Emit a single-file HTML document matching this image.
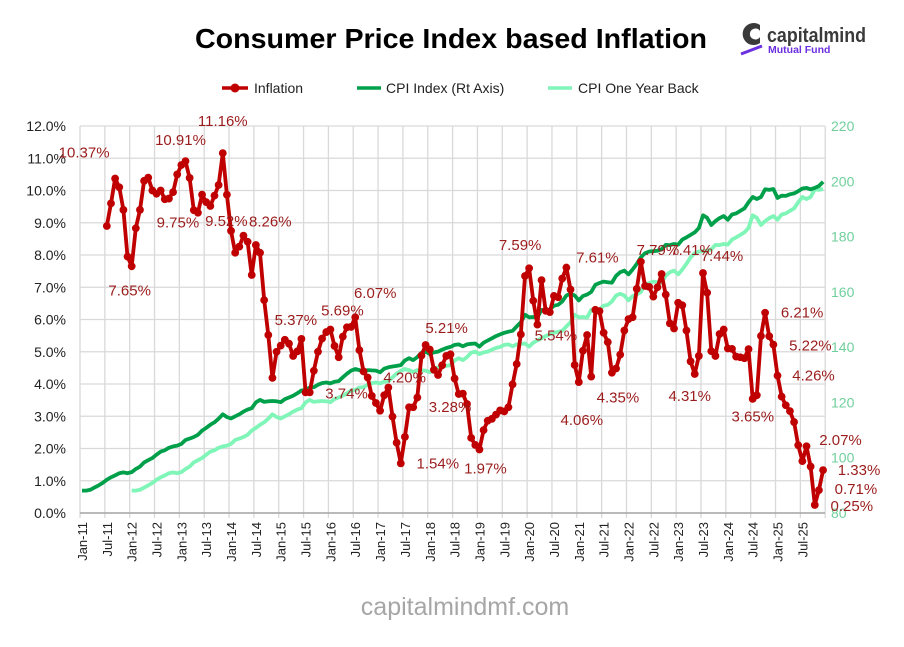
<!DOCTYPE html>
<html><head><meta charset="utf-8"><title>Consumer Price Index based Inflation</title>
<style>
html,body{margin:0;padding:0;background:#fff;}
svg{display:block;font-family:"Liberation Sans",Arial,sans-serif;}
</style></head>
<body>
<svg id="chart" width="904" height="647" viewBox="0 0 904 647" xmlns="http://www.w3.org/2000/svg">
  <rect x="0" y="0" width="904" height="647" fill="#fff"/>
  <text x="451" y="48" text-anchor="middle" font-size="28" font-weight="bold" fill="#000" textLength="512" lengthAdjust="spacingAndGlyphs">Consumer Price Index based Inflation</text>
  <g>
    <path d="M760 25 A11 11 0 1 0 760 43 L760 37 A5.5 5.5 0 1 1 760 31 Z" fill="#3a3a3a"/>
    <path d="M741 54 L762 46" stroke="#6b2fe0" stroke-width="3"/>
    <text x="767" y="42" font-size="20" font-weight="bold" fill="#3a3a3a" textLength="99" lengthAdjust="spacingAndGlyphs">capitalmind</text>
    <text x="768" y="53" font-size="10.5" font-weight="bold" fill="#6b2fe0">Mutual Fund</text>
  </g>
  <g>
    <g>
      <line x1="222" y1="88" x2="248" y2="88" stroke="#c00000" stroke-width="3.5"/>
      <circle cx="235" cy="88" r="4.5" fill="#c00000"/>
      <text x="254" y="93" font-size="14" fill="#222">Inflation</text>
    </g>
    <g>
      <line x1="357" y1="88" x2="381" y2="88" stroke="#00a04b" stroke-width="3.5"/>
      <text x="386" y="93" font-size="14" fill="#222">CPI Index (Rt Axis)</text>
    </g>
    <g>
      <line x1="548" y1="88" x2="572" y2="88" stroke="#80f5b8" stroke-width="3.5"/>
      <text x="578" y="93" font-size="14" fill="#222">CPI One Year Back</text>
    </g>
  </g>
  <g id="grid"></g>
  <g id="axes"></g>
  <g id="series"></g>
  <g id="labels"></g>
  <text x="465" y="615" text-anchor="middle" font-size="25" fill="#a6a6a6">capitalmindmf.com</text>
</svg>
<script>
// ---- data ----
const startYear = 2011;
const inflation = [
 null,null,null,null,null,null,8.9,9.6,10.37,10.1,9.4,7.95,
 7.65,8.83,9.4,10.3,10.4,10.0,9.9,10.0,9.73,9.75,9.95,10.5,
 10.79,10.91,10.39,9.39,9.31,9.87,9.64,9.52,9.84,10.17,11.16,9.87,
 8.75,8.07,8.26,8.6,8.41,7.38,8.31,8.07,6.6,5.52,4.19,5.0,
 5.19,5.37,5.25,4.87,5.01,5.40,3.74,3.74,4.41,5.0,5.41,5.61,
 5.69,5.18,4.83,5.47,5.76,5.77,6.07,5.05,4.39,4.20,3.63,3.41,
 3.17,3.65,3.89,2.99,2.18,1.54,2.36,3.28,3.28,3.58,4.88,5.21,
 5.07,4.44,4.28,4.58,4.87,4.92,4.17,3.69,3.70,3.38,2.33,2.11,
 1.97,2.57,2.86,2.92,3.05,3.18,3.15,3.28,3.99,4.62,5.54,7.35,
 7.59,6.58,5.84,7.22,6.27,6.23,6.73,6.69,7.27,7.61,6.93,4.59,
 4.06,5.03,5.52,4.23,6.30,6.26,5.59,5.30,4.35,4.48,4.91,5.66,
 6.01,6.07,6.95,7.79,7.04,7.01,6.71,7.0,7.41,6.77,5.88,5.72,
 6.52,6.44,5.66,4.70,4.31,4.87,7.44,6.83,5.02,4.87,5.55,5.69,
 5.10,5.09,4.85,4.83,4.80,5.08,3.54,3.65,5.49,6.21,5.48,5.22,
 4.26,3.61,3.34,3.16,2.82,2.10,1.61,2.07,1.44,0.25,0.71,1.33
];
const cpiIndex = [
 88.1,88.1,88.4,89.2,90.0,90.9,92.0,92.9,93.6,94.4,94.7,94.4,
 94.8,95.9,96.8,98.3,99.1,99.9,101.1,102.2,102.7,103.6,104.1,104.4,
 105.0,106.4,106.9,107.5,108.3,109.8,110.8,111.9,112.8,114.1,115.7,114.7,
 114.2,115.0,115.7,116.7,117.4,117.9,120.0,120.9,120.2,120.4,120.5,120.4,
 120.1,121.2,121.8,122.4,123.3,124.3,124.5,125.4,125.5,126.4,127.0,127.2,
 126.9,127.5,127.7,129.1,130.4,131.5,132.1,131.7,131.0,131.7,131.6,131.5,
 130.9,132.2,132.7,133.0,133.2,133.5,135.2,136.0,135.3,136.4,138.0,138.4,
 137.5,138.1,138.4,139.1,139.7,140.1,140.8,141.0,140.3,141.0,141.2,141.3,
 140.2,141.6,142.4,143.2,144.0,144.6,145.2,145.6,145.9,147.5,149.0,151.7,
 150.8,150.9,150.7,153.5,153.0,153.6,155.0,155.3,156.5,158.7,159.3,158.7,
 156.9,158.5,159.0,160.0,162.6,163.2,163.7,163.5,163.3,165.8,167.1,167.7,
 166.3,168.1,170.1,172.5,174.0,174.6,174.7,174.9,175.4,177.0,176.9,177.3,
 177.1,178.9,179.7,180.6,181.5,183.1,187.7,186.8,184.2,185.6,186.7,187.4,
 186.1,188.0,188.4,189.3,190.2,192.4,194.3,193.6,194.3,197.1,196.9,197.2,
 194.0,194.8,194.7,195.3,195.6,196.4,197.4,197.6,197.1,197.6,198.3,199.8
];
const leftTicks = [0,1,2,3,4,5,6,7,8,9,10,11,12];
const rightTicks = [80,100,120,140,160,180,200,220];
const monthNames = ["Jan","Feb","Mar","Apr","May","Jun","Jul","Aug","Sep","Oct","Nov","Dec"];
const labelIdx  = [8,12,25,21,34,31,38,49,60,66,54,69,83,79,77,96,108,106,117,120,128,135,140,150,148,163,165,167,168,175,179,178,177];
const labelOff  = [[-31,-21],[-2,29],[-5,-16],[9,29],[0,-27],[16,20],[31,-20],[11,-15],[12,-14],[20,-19],[41,6],[37,5],[21,-12],[41,5],[37,5],[6,24],[-9,-18],[35,6],[31,-5],[3,43],[6,30],[17,-7],[30,-19],[19,-12],[-5,27],[-4,26],[37,5],[37,6],[36,5],[34,-1],[36,5],[37,4],[37,6]];

// ---- scales ----
const X0 = 82, STEP = 4.14, PL = 80, PR = 825, PT = 126, PB = 513;
const xs = i => X0 + STEP * i;
const yL = v => PB - (PB - PT) * v / 12;
const yR = v => PB - (PB - PT) * (v - 80) / 140;
const NS = "http://www.w3.org/2000/svg";
function mk(tag, attrs, parent){ const e = document.createElementNS(NS, tag); for (const k in attrs) e.setAttribute(k, attrs[k]); parent.appendChild(e); return e; }

const grid = document.getElementById('grid'), axes = document.getElementById('axes');
const series = document.getElementById('series'), labels = document.getElementById('labels');

leftTicks.forEach(t => {
  const l = mk('line', {x1:PL, x2:PR, y1:yL(t), y2:yL(t), stroke:'#d9d9d9', 'stroke-width':1.3}, grid);
  
  
  const tx = mk('text', {x:66, y:yL(t)+5, 'text-anchor':'end', 'font-size':14, fill:'#222'}, axes);
  tx.textContent = t.toFixed(1) + '%';
  
  
});
for (let k = 0; k <= 30; k++) {
  const gx = PL + k * 6 * STEP;
  const l = mk('line', {x1:gx, x2:gx, y1:PT, y2:PB+5, stroke:'#d9d9d9', 'stroke-width':1.3}, grid);
  
  
}
const ax = mk('line', {x1:PL, x2:PR, y1:PB, y2:PB, stroke:'#a6a6a6', 'stroke-width':1.5}, axes);


rightTicks.forEach(t => {
  const tx = mk('text', {x:831, y:yR(t)+5, 'font-size':14, fill:'#6fcf9c'}, axes);
  tx.textContent = t;
  
  
});
for (let i = 0; i < cpiIndex.length; i += 6) {
  const cx = xs(i) + 5;
  const tx = mk('text', {x:cx, y:522, 'text-anchor':'end', 'font-size':13, fill:'#222', transform:`rotate(-90 ${cx} 522)`}, axes);
  tx.textContent = monthNames[i % 12] + '-' + String((startYear + Math.floor(i / 12)) % 100).padStart(2, '0');
  
  
}

function pathFrom(arr, yf, off){
  let d = '';
  arr.forEach((v, i) => { if (v == null) return; d += (d ? 'L' : 'M') + xs(i + off).toFixed(1) + ' ' + yf(v).toFixed(1); });
  return d;
}
const oneYearBack = cpiIndex.slice(0, cpiIndex.length - 12);
const p2 = mk('path', {d:pathFrom(oneYearBack, yR, 12), fill:'none', stroke:'#80f5b8', 'stroke-width':3.8, 'stroke-linejoin':'round'}, series);


const p1 = mk('path', {d:pathFrom(cpiIndex, yR, 0), fill:'none', stroke:'#00a04b', 'stroke-width':3.8, 'stroke-linejoin':'round'}, series);


const p0 = mk('path', {d:pathFrom(inflation, yL, 0), fill:'none', stroke:'#c00000', 'stroke-width':3.8, 'stroke-linejoin':'round'}, series);


inflation.forEach((v, i) => {
  if (v == null) return;
  const c = mk('circle', {cx:xs(i), cy:yL(v), r:3.9, fill:'#c00000'}, series);
  
  
});

labelIdx.forEach((i, k) => {
  const v = inflation[i];
  const t = mk('text', {x:xs(i) + labelOff[k][0], y:yL(v) + labelOff[k][1], 'text-anchor':'middle', 'font-size':15, fill:'#9b1c1c'}, labels);
  t.textContent = v.toFixed(2) + '%';
  
  
});
</script>
</body></html>
